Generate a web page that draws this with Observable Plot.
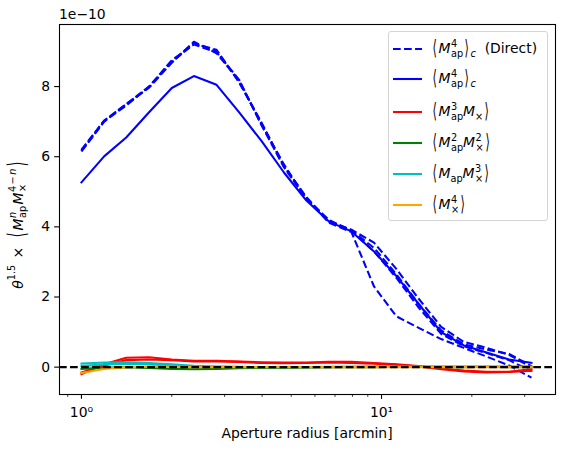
<!DOCTYPE html>
<html>
<head>
<meta charset="utf-8">
<script src="https://cdn.jsdelivr.net/npm/d3@7"></script>
<script src="https://cdn.jsdelivr.net/npm/@observablehq/plot@0.6"></script>
<style>
  body { margin: 0; background: #fff; }
  #fig { position: relative; width: 564px; height: 452px; font-family: "DejaVu Sans"; font-size: 13.9px; color: #000; }
  .abs { position: absolute; white-space: nowrap; line-height: 1; }
  .ss { display: inline-flex; flex-direction: column; font-size: 70%; line-height: 1.02; vertical-align: 0.62em; margin-left: 0.5px; }
  .sb { font-size: 70%; vertical-align: -0.4em; }
  .sp { font-size: 70%; vertical-align: 0.75em; }
  .ang { display: inline-block; transform: scale(0.8, 1.5); margin: 0 1px; }
  .yl .ang { transform: scale(0.85, 1.75); margin: 0 2px; }
  .gap { display: inline-block; }
  #legend { position: absolute; left: 388px; top: 31px; width: 158px; height: 188px; border: 1px solid #d4d4d4; border-radius: 3px; background: rgba(255,255,255,0.8); }
  .row { position: absolute; left: 0; height: 30px; display: flex; align-items: center; }
  .row svg { margin-left: 4px; margin-right: 9px; }
</style>
</head>
<body>
<div id="fig"></div>
<script>
// Aperture radii [arcmin]
const radius = [1.0, 1.19, 1.41, 1.68, 2.0, 2.37, 2.82, 3.35, 3.98, 4.73, 5.62, 6.68, 7.94, 9.44, 11.2, 13.3, 15.8, 18.8, 22.4, 26.6, 31.6];

// theta^1.5 x <M_ap^n M_x^(4-n)>, in units of 1e-10
// direct fourth-order aperture statistics, one array per run
const directA = [6.18, 7.02, 7.48, 7.98, 8.72, 9.25, 9.02, 8.15, 6.95, 5.75, 4.82, 4.18, 3.90, 3.40, 2.65, 1.80, 1.05, 0.65, 0.50, 0.38, 0.03];
const directB = [6.15, 7.00, 7.50, 8.00, 8.75, 9.20, 8.98, 8.20, 6.90, 5.70, 4.80, 4.12, 3.85, 2.30, 1.45, 1.12, 0.80, 0.55, 0.30, 0.05, -0.30];
const directC = [6.16, 7.01, 7.46, 8.00, 8.70, 9.22, 9.05, 8.12, 6.98, 5.72, 4.85, 4.15, 3.92, 3.55, 2.80, 1.95, 1.15, 0.72, 0.55, 0.35, 0.00];
const directD = [6.20, 7.03, 7.50, 7.97, 8.68, 9.28, 8.95, 8.18, 6.92, 5.78, 4.78, 4.20, 3.88, 3.30, 2.55, 1.70, 0.95, 0.60, 0.40, 0.20, -0.12];
// estimated from the correlation functions
const mapMap4 = [5.27, 6.01, 6.55, 7.27, 7.96, 8.30, 8.05, 7.27, 6.45, 5.55, 4.75, 4.15, 3.87, 3.30, 2.60, 1.80, 1.00, 0.62, 0.42, 0.22, 0.12];
const map3MxA = [-0.20, 0.08, 0.27, 0.28, 0.22, 0.18, 0.18, 0.16, 0.14, 0.13, 0.13, 0.15, 0.15, 0.12, 0.08, 0.03, -0.04, -0.10, -0.13, -0.13, -0.06];
const map3MxB = [-0.15, 0.05, 0.20, 0.22, 0.20, 0.16, 0.16, 0.15, 0.12, 0.11, 0.12, 0.13, 0.12, 0.10, 0.07, 0.02, -0.06, -0.12, -0.15, -0.14, -0.10];
const map2Mx2 = [-0.05, -0.02, 0.00, -0.02, -0.05, -0.06, -0.05, -0.03, -0.02, -0.02, -0.01, 0.00, 0.00, 0.00, 0.01, 0.01, 0.00, 0.00, 0.01, 0.01, 0.02];
const mapMx3A = [0.10, 0.13, 0.14, 0.12, 0.08, 0.04, 0.02, 0.01, 0.00, 0.00, 0.00, 0.01, 0.01, 0.02, 0.02, 0.02, 0.02, 0.02, 0.01, 0.01, 0.01];
const mapMx3B = [0.03, 0.08, 0.10, 0.08, 0.05, 0.02, 0.01, 0.00, 0.00, 0.00, 0.00, 0.00, 0.01, 0.01, 0.01, 0.01, 0.01, 0.01, 0.01, 0.00, 0.00];
const mx4 = [-0.17, -0.05, 0.00, 0.01, 0.01, 0.00, 0.00, 0.00, 0.00, 0.00, 0.00, 0.00, 0.00, 0.00, 0.00, 0.00, 0.00, 0.00, 0.00, 0.00, 0.00];

const yTicks = [0, 2, 4, 6, 8];
const xMajor = [1, 10];
const xMajorLabels = ["10⁰", "10¹"];
const xMinor = [0.9, 2, 3, 4, 5, 6, 7, 8, 9, 20, 30];

const tidy = (runs) => runs.flatMap(([name, vals]) => vals.map((v, i) => ({r: radius[i], v, run: name})));

const direct = tidy([["a", directA], ["b", directB], ["c", directC], ["d", directD]]);
const est = tidy([["e", mapMap4]]);
const red = tidy([["a", map3MxA], ["b", map3MxB]]);
const green = tidy([["a", map2Mx2]]);
const cyan = tidy([["a", mapMx3A], ["b", mapMx3B]]);
const orange = tidy([["a", mx4]]);

const LW = 2.08;
const DASH = "7.7,3.33";
const C = {blue: "#0000ff", red: "#ff0000", green: "#008000", cyan: "#00bfbf", orange: "#ffa500"};

const chart = Plot.plot({
  width: 564,
  height: 452,
  marginLeft: 59,
  marginRight: 9,
  marginTop: 24,
  marginBottom: 58,
  style: {fontFamily: "DejaVu Sans", fontSize: "13.9px", color: "#000", background: "transparent", overflow: "visible"},
  x: {type: "log", domain: [0.845, 38.0]},
  y: {domain: [-0.78, 9.77]},
  marks: [
    Plot.line(direct, {x: "r", y: "v", z: "run", stroke: C.blue, strokeWidth: LW, strokeDasharray: DASH, strokeLinecap: "butt"}),
    Plot.line(est, {x: "r", y: "v", z: "run", stroke: C.blue, strokeWidth: LW, strokeLinecap: "square"}),
    Plot.line(red, {x: "r", y: "v", z: "run", stroke: C.red, strokeWidth: LW, strokeLinecap: "square"}),
    Plot.line(green, {x: "r", y: "v", z: "run", stroke: C.green, strokeWidth: LW, strokeLinecap: "square"}),
    Plot.line(cyan, {x: "r", y: "v", z: "run", stroke: C.cyan, strokeWidth: LW, strokeLinecap: "square"}),
    Plot.line(orange, {x: "r", y: "v", z: "run", stroke: C.orange, strokeWidth: LW, strokeLinecap: "square"}),
    Plot.ruleY([0], {stroke: "#000", strokeWidth: LW, strokeDasharray: DASH}),
    Plot.axisY({ticks: yTicks, tickSize: 4.86, tickPadding: 4.5, tickFormat: d => String(d), label: null, strokeWidth: 1.1}),
    Plot.axisX({ticks: xMajor, tickSize: 4.86, tickPadding: 8, tickFormat: d => xMajorLabels[xMajor.indexOf(d)], label: null, strokeWidth: 1.1}),
    Plot.axisX({ticks: xMinor, tickSize: 2.8, tickFormat: () => "", label: null, strokeWidth: 0.8}),
    Plot.frame({stroke: "#000", strokeWidth: 1.1})
  ]
});

const fig = document.getElementById("fig");
chart.style.position = "absolute";
chart.style.left = "0";
chart.style.top = "0";
fig.appendChild(chart);

// math helpers for labels
const ss = (sup, sub) => `<span class="ss"><span>${sup}</span><span>${sub}</span></span>`;
const sb = (t) => `<span class="sb">${t}</span>`;
const gap = (em) => `<span class="gap" style="width:${em}em"></span>`;
const L = `<span class="ang">⟨</span>`;
const R = `<span class="ang">⟩</span>`;
const M = `<i>M</i>`;

function addText(html, css, cls) {
  const d = document.createElement("div");
  d.className = "abs" + (cls ? " " + cls : "");
  d.innerHTML = html;
  Object.assign(d.style, css);
  fig.appendChild(d);
  return d;
}

// scale offset, axis labels
addText("1e−10", {left: "59px", top: "8px"});
addText("Aperture radius [arcmin]", {left: "307px", top: "427px", transform: "translateX(-50%)"});
addText(`<i>θ</i><span class="sp">1.5</span>${gap(0.45)}×${gap(0.5)}${L}${M}${ss("<i>n</i>", "ap")}${gap(0.1)}${M}${ss("4" + gap(0.15) + "−" + gap(0.15) + "<i>n</i>", "×")}${R}`,
  {left: "18px", top: "224px", transform: "translate(-50%,-50%) rotate(-90deg)"}, "yl");

// legend
const legendItems = [
  {color: C.blue, dash: true, html: `${L}${M}${ss("4", "ap")}${R}${sb("<i>c</i>")}&nbsp;&nbsp;(Direct)`},
  {color: C.blue, dash: false, html: `${L}${M}${ss("4", "ap")}${R}${sb("<i>c</i>")}`},
  {color: C.red, dash: false, html: `${L}${M}${ss("3", "ap")}${M}${sb("×")}${R}`},
  {color: C.green, dash: false, html: `${L}${M}${ss("2", "ap")}${M}${ss("2", "×")}${R}`},
  {color: C.cyan, dash: false, html: `${L}${M}${sb("ap")}${M}${ss("3", "×")}${R}`},
  {color: C.orange, dash: false, html: `${L}${M}${ss("4", "×")}${R}`}
];
const rowY = [48, 78.3, 111, 141.7, 173.3, 204];
const legend = document.createElement("div");
legend.id = "legend";
fig.appendChild(legend);
legendItems.forEach((it, i) => {
  const row = document.createElement("div");
  row.className = "row";
  row.style.top = (rowY[i] - 31 - 15) + "px";
  const dash = it.dash ? `stroke-dasharray="7.7,3.33"` : "";
  row.innerHTML = `<svg width="29" height="6"><line x1="0" y1="3" x2="29" y2="3" stroke="${it.color}" stroke-width="${LW}" ${dash}></line></svg><span style="line-height:1">${it.html}</span>`;
  legend.appendChild(row);
});
</script>
</body>
</html>
